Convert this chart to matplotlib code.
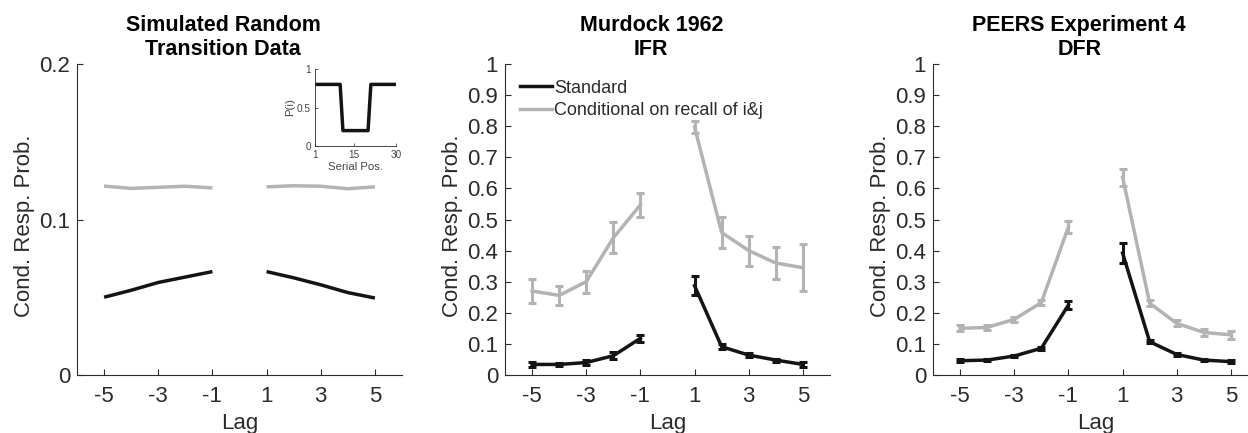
import matplotlib
matplotlib.use("Agg")
import matplotlib.pyplot as plt

plt.rcParams['font.family'] = ['Liberation Sans', 'DejaVu Sans']

# ---------------- data ----------------
lags_neg = [-5, -4, -3, -2, -1]
lags_pos = [1, 2, 3, 4, 5]
xtick_vals = [-5, -3, -1, 1, 3, 5]
xtick_labels = ['-5', '-3', '-1', '1', '3', '5']

# Panel 1: simulated random transition data
sim_std_neg = [0.0500, 0.0545, 0.0595, 0.0630, 0.0665]
sim_std_pos = [0.0665, 0.0625, 0.0580, 0.0530, 0.0495]
sim_cond_neg = [0.1215, 0.1200, 0.1207, 0.1214, 0.1203]
sim_cond_pos = [0.1210, 0.1217, 0.1214, 0.1198, 0.1210]

# Inset: P(i) by serial position
serial_pos = list(range(1, 31))
p_i = [0.8, 0.8, 0.8, 0.8, 0.8, 0.8, 0.8, 0.8, 0.8, 0.8,
       0.2, 0.2, 0.2, 0.2, 0.2, 0.2, 0.2, 0.2, 0.2, 0.2,
       0.8, 0.8, 0.8, 0.8, 0.8, 0.8, 0.8, 0.8, 0.8, 0.8]

# Panel 2: Murdock 1962 IFR
murd_std_neg = [0.034, 0.034, 0.040, 0.062, 0.118]
murd_std_neg_err = [0.007, 0.006, 0.007, 0.011, 0.011]
murd_std_pos = [0.287, 0.091, 0.064, 0.048, 0.034]
murd_std_pos_err = [0.030, 0.008, 0.006, 0.005, 0.007]
murd_cond_neg = [0.270, 0.256, 0.300, 0.441, 0.547]
murd_cond_neg_err = [0.039, 0.031, 0.035, 0.050, 0.038]
murd_cond_pos = [0.797, 0.458, 0.400, 0.360, 0.345]
murd_cond_pos_err = [0.020, 0.050, 0.048, 0.050, 0.075]

# Panel 3: PEERS Experiment 4 DFR
peers_std_neg = [0.046, 0.048, 0.061, 0.086, 0.225]
peers_std_neg_err = [0.005, 0.004, 0.004, 0.005, 0.013]
peers_std_pos = [0.392, 0.107, 0.066, 0.048, 0.043]
peers_std_pos_err = [0.032, 0.004, 0.004, 0.004, 0.005]
peers_cond_neg = [0.150, 0.153, 0.179, 0.233, 0.476]
peers_cond_neg_err = [0.010, 0.007, 0.007, 0.008, 0.020]
peers_cond_pos = [0.636, 0.231, 0.166, 0.137, 0.129]
peers_cond_pos_err = [0.027, 0.010, 0.010, 0.012, 0.013]

titles = ['Simulated Random\nTransition Data', 'Murdock 1962\nIFR', 'PEERS Experiment 4\nDFR']
legend_labels = ['Standard', 'Conditional on recall of i&j']

# ---------------- style ----------------
AXC = '#2b2b2b'
BLACK = '#141414'
GRAY = '#b3b3b3'
LW = 2.5
FS = 16

fig = plt.figure(figsize=(12.48, 4.33), dpi=100)
W, H = 1248.0, 433.0
ax_w, ax_h = 325 / W, 311 / H
bottom = (H - 375) / H
lefts = [77 / W, 505 / W, 933 / W]
axes = [fig.add_axes([l, bottom, ax_w, ax_h]) for l in lefts]


def style(ax, ymax, yticks, ylabels):
    ax.set_xlim(-6, 6)
    ax.set_ylim(0, ymax)
    ax.set_xticks(xtick_vals)
    ax.set_xticklabels(xtick_labels)
    ax.set_yticks(yticks)
    ax.set_yticklabels(ylabels)
    for s in ['top', 'right']:
        ax.spines[s].set_visible(False)
    for s in ['left', 'bottom']:
        ax.spines[s].set_color(AXC)
        ax.spines[s].set_linewidth(0.8)
    ax.tick_params(direction='in', length=4, width=0.8, colors=AXC,
                   labelsize=FS, pad=5)
    ax.tick_params(axis='x', pad=8)
    ax.set_xlabel('Lag', fontsize=FS, color=AXC, labelpad=4)
    ax.set_ylabel('Cond. Resp. Prob.', fontsize=FS, color=AXC)
    ax.yaxis.set_label_coords(-42 / 325, 0.48)


# Panel 1
ax = axes[0]
ax.plot(lags_neg, sim_cond_neg, color=GRAY, lw=LW, solid_capstyle='butt')
ax.plot(lags_pos, sim_cond_pos, color=GRAY, lw=LW, solid_capstyle='butt')
ax.plot(lags_neg, sim_std_neg, color=BLACK, lw=LW, solid_capstyle='butt')
ax.plot(lags_pos, sim_std_pos, color=BLACK, lw=LW, solid_capstyle='butt')
style(ax, 0.2, [0, 0.1, 0.2], ['0', '0.1', '0.2'])

yt = [0, 0.1, 0.2, 0.3, 0.4, 0.5, 0.6, 0.7, 0.8, 0.9, 1.0]
ytl = ['0', '0.1', '0.2', '0.3', '0.4', '0.5', '0.6', '0.7', '0.8', '0.9', '1']


def eb(ax, x, y, e, c, label=None):
    return ax.errorbar(x, y, yerr=e, color=c, lw=LW, elinewidth=2.2,
                       capsize=3, capthick=2.2, label=label)


# Panel 2
ax = axes[1]
h1 = eb(ax, lags_neg, murd_std_neg, murd_std_neg_err, BLACK, legend_labels[0])
eb(ax, lags_pos, murd_std_pos, murd_std_pos_err, BLACK)
h2 = eb(ax, lags_neg, murd_cond_neg, murd_cond_neg_err, GRAY, legend_labels[1])
eb(ax, lags_pos, murd_cond_pos, murd_cond_pos_err, GRAY)
style(ax, 1.0, yt, ytl)
ax.legend([h1.lines[0], h2.lines[0]], legend_labels, loc='upper left',
          bbox_to_anchor=(0.045, 0.95), frameon=False, fontsize=13,
          handlelength=1.8, handletextpad=0.1, labelspacing=0.3,
          borderaxespad=0, borderpad=0, labelcolor=AXC)

# Panel 3
ax = axes[2]
eb(ax, lags_neg, peers_std_neg, peers_std_neg_err, BLACK)
eb(ax, lags_pos, peers_std_pos, peers_std_pos_err, BLACK)
eb(ax, lags_neg, peers_cond_neg, peers_cond_neg_err, GRAY)
eb(ax, lags_pos, peers_cond_pos, peers_cond_pos_err, GRAY)
style(ax, 1.0, yt, ytl)

for ax, t in zip(axes, titles):
    ax.text(0.45, 1.012, t, transform=ax.transAxes, ha='center', va='bottom',
            fontsize=15.5, fontweight='bold', color='black', linespacing=1.2)

# Inset
ins = fig.add_axes([315 / W, (H - 146) / H, 81 / W, 77 / H])
ins.plot(serial_pos, p_i, color=BLACK, lw=2.5)
ins.set_xlim(1, 30)
ins.set_ylim(0, 1)
ins.set_xticks([1, 15, 30])
ins.set_xticklabels(['1', '15', '30'])
ins.set_yticks([0, 0.5, 1])
ins.set_yticklabels(['0', '0.5', '1'])
for s in ['top', 'right']:
    ins.spines[s].set_visible(False)
for s in ['left', 'bottom']:
    ins.spines[s].set_color(AXC)
    ins.spines[s].set_linewidth(0.6)
ins.tick_params(direction='in', length=2, width=0.6, colors='#444444',
                labelsize=7.2, pad=3)
ins.set_xlabel('Serial Pos.', fontsize=8.2, color='#444444', labelpad=1.5)
ins.set_ylabel('P(i)', fontsize=8.2, color='#444444', labelpad=1)

fig.savefig('out.png', dpi=100)
